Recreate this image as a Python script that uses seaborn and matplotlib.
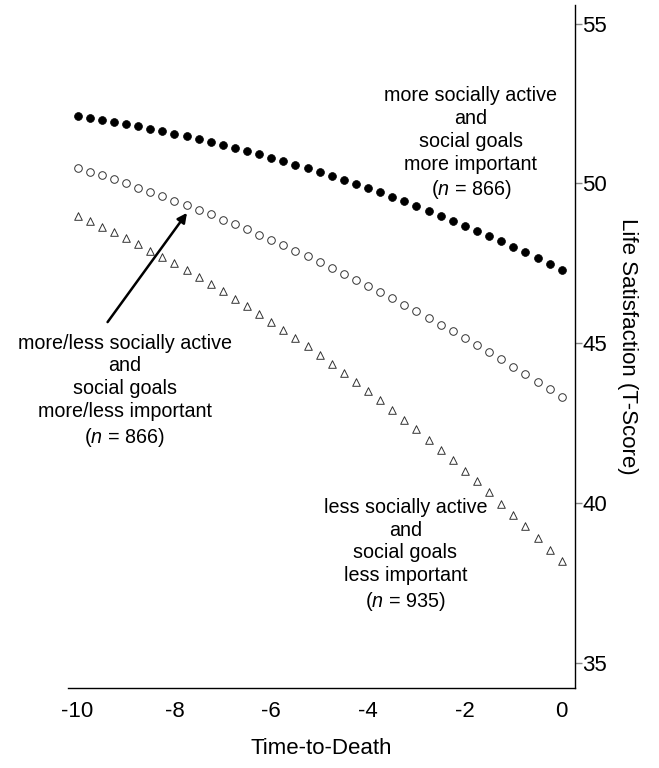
import numpy as np
import pandas as pd
import matplotlib
matplotlib.use("Agg")
import matplotlib.pyplot as plt
import seaborn as sns

# time grid (years before death), one point every quarter year
time = np.linspace(-10, 0, 41)

# life satisfaction (T-score)
high_high = [52.10, 52.04, 51.98, 51.92, 51.86, 51.79, 51.71, 51.64, 51.56, 51.48,
             51.39, 51.30, 51.21, 51.12, 51.02, 50.92, 50.81, 50.70, 50.59, 50.47,
             50.36, 50.23, 50.11, 49.98, 49.85, 49.72, 49.58, 49.44, 49.29, 49.14,
             48.99, 48.84, 48.68, 48.52, 48.35, 48.19, 48.02, 47.84, 47.66, 47.48,
             47.30]
mixed = [50.49, 50.37, 50.25, 50.13, 50.00, 49.87, 49.74, 49.60, 49.46, 49.32,
         49.18, 49.03, 48.87, 48.72, 48.56, 48.40, 48.23, 48.06, 47.89, 47.72,
         47.54, 47.36, 47.17, 46.99, 46.80, 46.60, 46.41, 46.21, 46.00, 45.79,
         45.58, 45.37, 45.16, 44.94, 44.71, 44.49, 44.26, 44.03, 43.79, 43.55,
         43.31]
low_low = [48.99, 48.82, 48.65, 48.47, 48.29, 48.10, 47.90, 47.70, 47.50, 47.29,
           47.07, 46.85, 46.63, 46.39, 46.16, 45.92, 45.67, 45.42, 45.16, 44.90,
           44.63, 44.36, 44.08, 43.79, 43.51, 43.21, 42.91, 42.61, 42.30, 41.98,
           41.66, 41.34, 41.01, 40.67, 40.33, 39.98, 39.63, 39.27, 38.91, 38.54,
           38.17]

labels = {
    "high": "more socially active\nand\nsocial goals\nmore important\n($\\it{n}$ = 866)",
    "mixed": "more/less socially active\nand\nsocial goals\nmore/less important\n($\\it{n}$ = 866)",
    "low": "less socially active\nand\nsocial goals\nless important\n($\\it{n}$ = 935)",
}

df = pd.DataFrame({"time": time, "high": high_high, "mixed": mixed, "low": low_low})

sns.set_style("white")
plt.rcParams["font.family"] = ["Liberation Sans", "DejaVu Sans"]
plt.rcParams["mathtext.fontset"] = "custom"
plt.rcParams["mathtext.rm"] = "Liberation Sans"
plt.rcParams["mathtext.it"] = "Liberation Sans:italic"
plt.rcParams["axes.unicode_minus"] = False
plt.rcParams["text.color"] = "black"
plt.rcParams["axes.labelcolor"] = "black"
plt.rcParams["xtick.labelcolor"] = "black"
plt.rcParams["ytick.labelcolor"] = "black"

fig = plt.figure(figsize=(6.59, 7.68), dpi=100)
ax = fig.add_axes([0.103, 0.104, 0.770, 0.890])

sns.scatterplot(data=df, x="time", y="high", ax=ax, marker="o", s=32,
                color="black", edgecolor="black", linewidth=0.5)
sns.scatterplot(data=df, x="time", y="mixed", ax=ax, marker="o", s=30,
                facecolor="white", edgecolor="#333333", linewidth=0.7)
sns.scatterplot(data=df, x="time", y="low", ax=ax, marker="^", s=30,
                facecolor="white", edgecolor="#333333", linewidth=0.7)

# text labels
txt = dict(ha="center", va="center", fontsize=14.2, linespacing=1.26)
ax.text(-1.88, 51.24, labels["high"], **txt)
ax.text(-9.03, 43.50, labels["mixed"], **txt)
ax.text(-3.23, 38.36, labels["low"], **txt)
ax.annotate("", xy=(-7.74, 49.08), xytext=(-9.38, 45.66),
            arrowprops=dict(arrowstyle="-|>", color="black", lw=1.8,
                            mutation_scale=14, shrinkA=0, shrinkB=0))

ax.set_xlim(-10.2, 0.28)
ax.set_ylim(34.2, 55.6)
ax.set_xticks([-10, -8, -6, -4, -2, 0])
ax.set_yticks([35, 40, 45, 50, 55])
ax.yaxis.tick_right()
ax.yaxis.set_label_position("right")
ax.tick_params(axis="both", labelsize=16, length=5, width=1, color="#888888",
               direction="out", pad=4)
ax.tick_params(axis="y", left=False, right=True, pad=0)
ax.set_xlabel("Time-to-Death", fontsize=16, labelpad=12)
ax.set_ylabel("Life Satisfaction (T-Score)", fontsize=16, rotation=-90,
              labelpad=22)

for side in ["left", "top"]:
    ax.spines[side].set_visible(False)
for side in ["right", "bottom"]:
    ax.spines[side].set_color("black")
    ax.spines[side].set_linewidth(1.0)

fig.savefig("out.png", dpi=100)
